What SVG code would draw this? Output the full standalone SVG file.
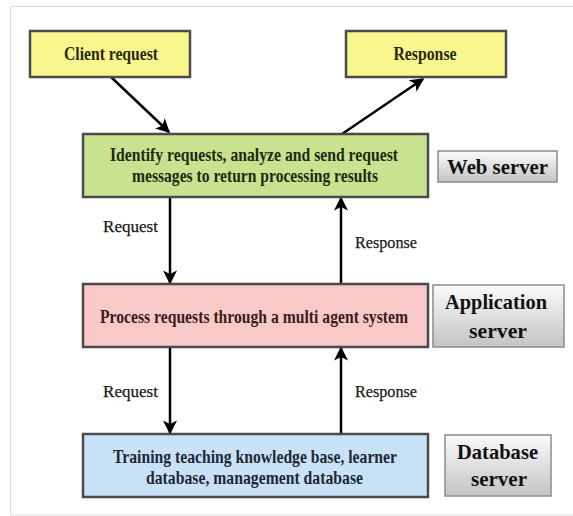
<svg xmlns="http://www.w3.org/2000/svg" width="573" height="516" viewBox="0 0 573 516">
  <style>
    .box { stroke: #4b4b4b; stroke-width: 2.5; }
    .lbl { fill: url(#grey); stroke: #8c8c8c; stroke-width: 1.5; }
    text { font-family: "Liberation Serif", "Times New Roman", serif; font-weight: bold; text-anchor: middle; }
    .t { font-size: 19.5px; }
    .side { font-size: 22px; fill: #111; }
    .side2 { font-size: 21px; fill: #111; }
    .edge { font-size: 17.5px; font-weight: normal; fill: #1a1a1a; text-anchor: start; stroke: #1a1a1a; stroke-width: 0.25; }
    .conn line { stroke: #000; stroke-width: 2.5; marker-end: url(#head); }
  </style>
  <defs>
    <linearGradient id="grey" x1="0" y1="0" x2="0" y2="1">
      <stop offset="0" stop-color="#fbfbfb"/>
      <stop offset="1" stop-color="#c4c4c4"/>
    </linearGradient>
    <marker id="head" viewBox="0 0 10 10" refX="9" refY="5" markerWidth="6" markerHeight="5.6" orient="auto" markerUnits="strokeWidth">
      <path d="M0,0 L10,5 L0,10 L2.5,5 z" fill="#000"/>
    </marker>
  </defs>

  <rect width="573" height="516" fill="#fff"/>
  <!-- outer frame -->
  <path d="M10.5,515 V6.5 H573 M10.5,515 H573" fill="none" stroke="#dcdcdc" stroke-width="1"/>

  <!-- connectors -->
  <g id="connectors" class="conn">
    <line x1="111" y1="77" x2="169" y2="132"/>
    <line x1="342" y1="134" x2="423" y2="79"/>
    <line x1="170" y1="197" x2="170" y2="283"/>
    <line x1="341" y1="284" x2="341" y2="198"/>
    <line x1="170" y1="347" x2="170" y2="433"/>
    <line x1="341" y1="434" x2="341" y2="348"/>
    <text class="edge" x="103" y="232" textLength="55" lengthAdjust="spacingAndGlyphs">Request</text>
    <text class="edge" x="355" y="248" textLength="62" lengthAdjust="spacingAndGlyphs">Response</text>
    <text class="edge" x="103" y="397" textLength="55" lengthAdjust="spacingAndGlyphs">Request</text>
    <text class="edge" x="355" y="397" textLength="62" lengthAdjust="spacingAndGlyphs">Response</text>
  </g>

  <!-- client request -->
  <g id="client">
    <rect class="box" x="30" y="31" width="160" height="46" fill="#faf68e"/>
    <text class="t" x="111" y="60" fill="#2a2a12" textLength="94" lengthAdjust="spacingAndGlyphs">Client request</text>
  </g>

  <!-- response -->
  <g id="response">
    <rect class="box" x="346" y="31" width="160" height="46" fill="#faf68e"/>
    <text class="t" x="425" y="60" fill="#2a2a12" textLength="63" lengthAdjust="spacingAndGlyphs">Response</text>
  </g>

  <!-- web tier -->
  <g id="web">
    <rect class="box" x="83" y="134" width="345" height="63" fill="#c8e290"/>
    <text class="t" x="254" y="161" fill="#1e2a10" textLength="288" lengthAdjust="spacingAndGlyphs">Identify requests, analyze and send request</text>
    <text class="t" x="255" y="182" fill="#1e2a10" textLength="246" lengthAdjust="spacingAndGlyphs">messages to return processing results</text>
  </g>
  <g id="web-label">
    <rect class="lbl" x="438" y="151" width="119" height="31"/>
    <text class="side" x="497.5" y="174" textLength="101" lengthAdjust="spacingAndGlyphs">Web server</text>
  </g>

  <!-- application tier: long line is squeezed with a horizontal scale -->
  <g id="app">
    <rect class="box" x="83" y="284" width="345" height="63" fill="#f9c9c8"/>
    <text class="t" transform="translate(254,323) scale(0.8,1)" x="0" y="0" fill="#3a1c1c" textLength="385" lengthAdjust="spacingAndGlyphs">Process requests through a multi agent system</text>
  </g>
  <g id="app-label">
    <rect class="lbl" x="433" y="285" width="131" height="62"/>
    <text class="side2" x="496" y="309" textLength="102" lengthAdjust="spacingAndGlyphs">Application</text>
    <text class="side2" x="498" y="338" textLength="58" lengthAdjust="spacingAndGlyphs">server</text>
  </g>

  <!-- database tier -->
  <g id="db">
    <rect class="box" x="83" y="434" width="345" height="63" fill="#cae2f8"/>
    <text class="t" x="255" y="463" fill="#1c2838" textLength="284" lengthAdjust="spacingAndGlyphs">Training teaching knowledge base, learner</text>
    <text class="t" x="254.5" y="484" fill="#1c2838" textLength="217" lengthAdjust="spacingAndGlyphs">database, management database</text>
  </g>
  <g id="db-label">
    <rect class="lbl" x="445" y="435" width="106" height="61"/>
    <text class="side" x="497.5" y="459" textLength="81" lengthAdjust="spacingAndGlyphs">Database</text>
    <text class="side" x="499" y="486" textLength="56" lengthAdjust="spacingAndGlyphs">server</text>
  </g>
</svg>
